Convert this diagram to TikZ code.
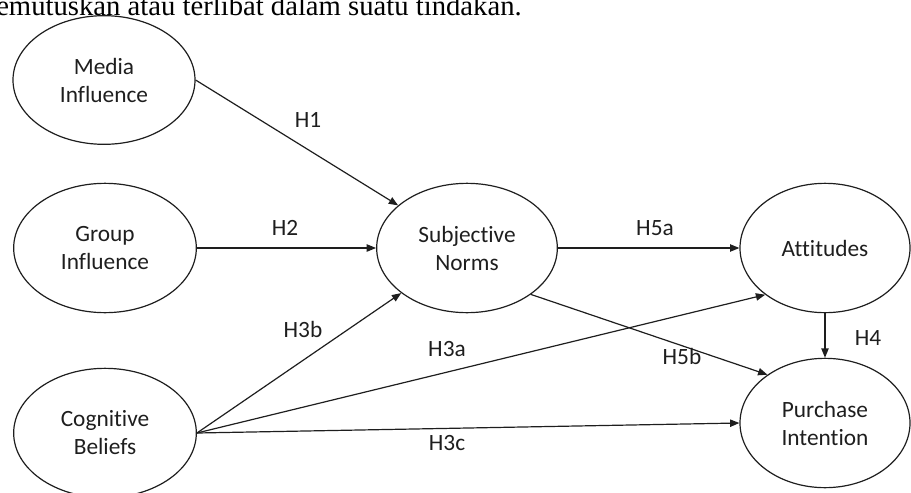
\documentclass[tikz,border=0pt]{standalone}
\usepackage{fontspec}
\setmainfont{Carlito}[Ligatures=NoCommon]
\newfontfamily\bodyfont{Liberation Serif}
\usepackage{tikz}
\usetikzlibrary{shapes.geometric,arrows.meta}
\definecolor{ink}{HTML}{1E1E1E}
\tikzset{
  construct/.style={draw=ink, ellipse, line width=0.9pt, inner sep=0pt, align=center,
    text=ink, font=\fontsize{17.5}{21}\selectfont},
  pathline/.style={draw=ink, line width=0.9pt, -{Triangle[length=7pt,width=5.5pt]}},
  lab/.style={text=ink, font=\fontsize{17.5}{21}\selectfont},
}

\begin{document}
\begin{tikzpicture}[x=0.75pt,y=-0.75pt]
\path[use as bounding box, clip] (0,0) rectangle (911,493);
\node[anchor=base west, inner sep=0pt, font=\bodyfont\fontsize{21.5}{26}\selectfont] (caption) at (-4,15) {emutuskan atau terlibat dalam suatu tindakan.};

% constructs
\node[construct, minimum width=136.5pt, minimum height=96.5pt] (media) at (104,80) {Media\\Influence};
\node[construct, minimum width=137pt, minimum height=97pt] (group) at (105,248) {Group\\Influence};
\node[construct, minimum width=137pt, minimum height=97pt] (cog) at (105,433) {Cognitive\\Beliefs};
\node[construct, minimum width=135.5pt, minimum height=97pt] (subj) at (467,248) {Subjective\\Norms};
\node[construct, minimum width=127.5pt, minimum height=97pt] (att) at (825,248) {Attitudes};
\node[construct, minimum width=127.5pt, minimum height=97pt] (pur) at (825,423) {Purchase\\Intention};

% paths
\draw[pathline] (media.east) -- (subj);
\draw[pathline] (group) -- (subj);
\draw[pathline] (cog.east) -- (subj);
\draw[pathline] (cog.east) -- (att.218);
\draw[pathline] (cog.east) -- (pur.west);
\draw[pathline] (subj) -- (att);
\draw[pathline] (subj.324) -- (pur.140);
\draw[pathline] (att) -- (pur);

% hypotheses
\node[lab] (h1) at (308,120) {H1};
\node[lab] (h2) at (285,228) {H2};
\node[lab] (h3b) at (303,329) {H3b};
\node[lab] (h3a) at (447,349) {H3a};
\node[lab] (h3c) at (447,443) {H3c};
\node[lab] (h5a) at (655,228) {H5a};
\node[lab] (h5b) at (682,356) {H5b};
\node[lab] (h4) at (868,338) {H4};
\end{tikzpicture}
\end{document}
